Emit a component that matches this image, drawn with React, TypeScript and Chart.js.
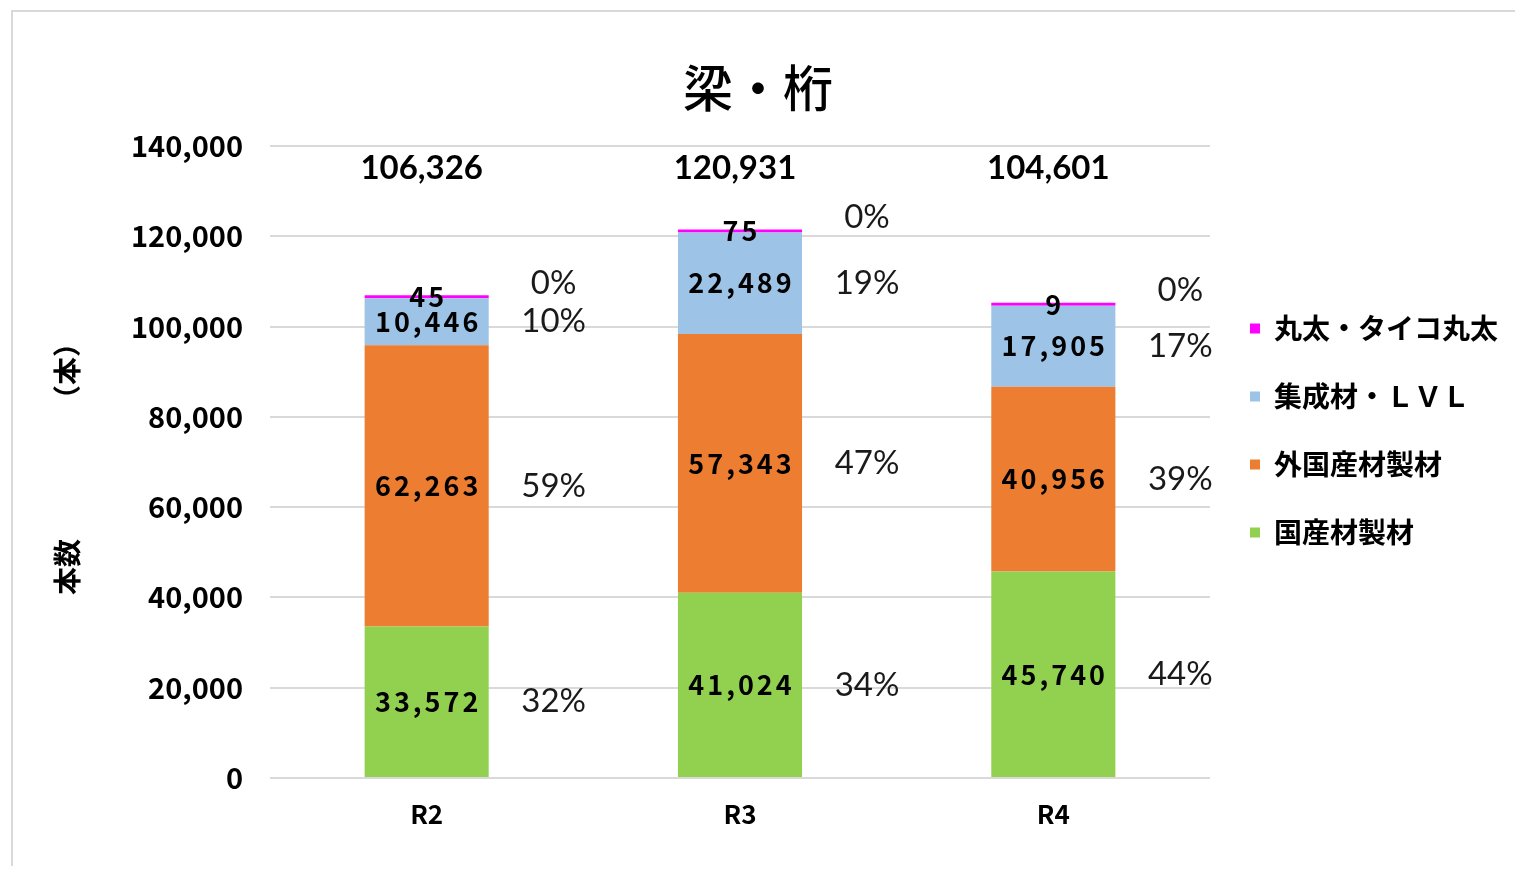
import { useEffect, useRef } from 'react';
import { Chart, registerables } from 'chart.js';

Chart.register(...registerables);

const categories = ['R2', 'R3', 'R4'];
const seriesNames = ['国産材製材', '外国産材製材', '集成材・ＬＶＬ', '丸太・タイコ丸太'];
const domesticSawn = [33572, 41024, 45740];
const importedSawn = [62263, 57343, 40956];
const glulamLvl = [10446, 22489, 17905];
const roundLogs = [45, 75, 9];
const totals = [106326, 120931, 104601];
const domesticPct = ['32%', '34%', '44%'];
const importedPct = ['59%', '47%', '39%'];
const glulamPct = ['10%', '19%', '17%'];
const roundLogsPct = ['0%', '0%', '0%'];
const seriesColors = ['#92D050', '#ED7D31', '#9DC3E6', '#FF00FF'];

const JP = '"Noto Sans CJK JP", "Noto Sans CJK SC", sans-serif';
const fmt = (v: number) => v.toLocaleString('en-US');

const backgroundPlugin = {
  id: 'bgFill',
  beforeDraw(chart: any) {
    const { ctx, width, height } = chart;
    ctx.save();
    ctx.fillStyle = '#ffffff';
    ctx.fillRect(0, 0, width, height);
    ctx.restore();
  },
};

const labelsPlugin = {
  id: 'barLabels',
  afterDatasetsDraw(chart: any) {
    const { ctx, chartArea } = chart;
    const pctSets = [domesticPct, importedPct, glulamPct, roundLogsPct];
    ctx.save();
    ctx.textAlign = 'center';
    ctx.textBaseline = 'middle';
    chart.data.datasets.forEach((ds: any, di: number) => {
      const meta = chart.getDatasetMeta(di);
      meta.data.forEach((bar: any, i: number) => {
        const { x, y, base } = bar.getProps(['x', 'y', 'base'], true);
        const mid = (y + base) / 2;
        ctx.fillStyle = '#000000';
        ctx.font = `bold 27px ${JP}`;
        (ctx as any).letterSpacing = '3px';
        ctx.fillText(fmt(ds.data[i]), x + 1.5, mid);
        (ctx as any).letterSpacing = '0px';
        ctx.fillStyle = '#1a1a1a';
        ctx.font = '33px Lato, "Open Sans", sans-serif';
        const py = di === 3 ? Math.min(y, base) - 12 : mid;
        ctx.fillText(pctSets[di][i], x + 127, py);
      });
    });
    const meta0 = chart.getDatasetMeta(0);
    ctx.fillStyle = '#000000';
    ctx.font = 'bold 33px Lato, "Open Sans", sans-serif';
    meta0.data.forEach((bar: any, i: number) => {
      ctx.fillText(fmt(totals[i]), bar.x - 5, chartArea.top + 22);
    });
    ctx.restore();
  },
};

export default function App() {
  const canvasRef = useRef<HTMLCanvasElement | null>(null);

  useEffect(() => {
    if (!canvasRef.current) return;
    const values = [domesticSawn, importedSawn, glulamLvl, roundLogs];
    const chart = new Chart(canvasRef.current, {
      type: 'bar',
      data: {
        labels: categories,
        datasets: values.map((d, i) => ({
          label: seriesNames[i],
          data: d,
          backgroundColor: seriesColors[i],
          borderWidth: 0,
          barPercentage: 0.396,
          categoryPercentage: 1,
          minBarLength: i === 3 ? 3 : 0,
        })),
      },
      options: {
        responsive: false,
        animation: false,
        devicePixelRatio: 1,
        layout: { padding: { top: 0, right: 7, bottom: 13, left: 0 } },
        plugins: {
          title: {
            display: true,
            text: '梁・桁',
            color: '#000000',
            font: { family: JP, size: 50, weight: '500' },
            padding: { top: 50, bottom: 28 },
          },
          legend: {
            position: 'right',
            reverse: true,
            labels: {
              color: '#000000',
              font: { family: JP, size: 28, weight: 'bold' },
              boxWidth: 10,
              boxHeight: 10,
              padding: 40,
            },
          },
          tooltip: { enabled: false },
        },
        scales: {
          x: {
            stacked: true,
            grid: { display: false },
            border: { display: false },
            ticks: {
              color: '#000000',
              font: { family: JP, size: 26, weight: 'bold' },
              padding: 13,
            },
            afterFit(scale: any) {
              scale.height = 75;
            },
          },
          y: {
            stacked: true,
            min: 0,
            max: 140000,
            grid: { color: '#d9d9d9', lineWidth: 2, drawTicks: false },
            border: { display: false },
            ticks: {
              stepSize: 20000,
              color: '#000000',
              font: { family: JP, size: 29, weight: 'bold' },
              padding: 27,
              callback: (v: any) => fmt(Number(v)),
            },
            title: {
              display: true,
              text: '本数　　　　　（本）',
              color: '#000000',
              font: { family: JP, size: 28, weight: 'bold' },
              padding: { top: 43, bottom: 0 },
            },
            afterFit(scale: any) {
              scale.width = 262;
            },
          },
        },
      },
      plugins: [backgroundPlugin, labelsPlugin],
    });
    return () => chart.destroy();
  }, []);

  return (
    <div style={{ position: 'relative', width: 1507, height: 858 }}>
      <canvas ref={canvasRef} width={1507} height={858} style={{ display: 'block' }} />
      <div style={{ position: 'absolute', left: 3, top: 2, width: 1512, height: 2, background: '#d9d9d9' }} />
      <div style={{ position: 'absolute', left: 3, top: 2, width: 2, height: 864, background: '#d9d9d9' }} />
    </div>
  );
}
